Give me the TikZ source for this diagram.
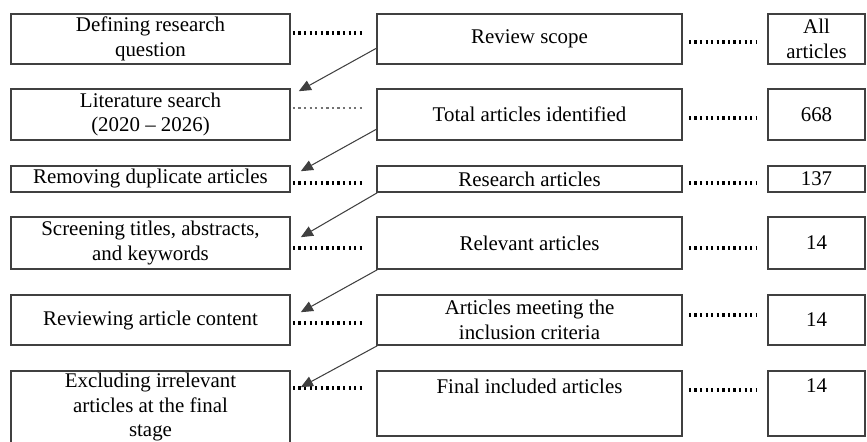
\documentclass[tikz,border=0pt]{standalone}
\usepackage{fontspec}
\setmainfont{Liberation Serif}
\usepackage{tikz}
\usetikzlibrary{calc}
\usetikzlibrary{arrows.meta}
\usetikzlibrary{positioning}
\newcommand{\pxu}{0.574pt}
\tikzset{>=latex}
\tikzstyle{colbox} = [rectangle, draw=black!75, line width=0.9pt, inner sep=0, align=center, font=\fontsize{12pt}{14pt}\selectfont]
\tikzstyle{stepbox} = [colbox, minimum width=279*\pxu]
\tikzstyle{outbox} = [colbox, minimum width=305*\pxu]
\tikzstyle{numbox} = [colbox, minimum width=97*\pxu]
\tikzstyle{lifted} = [text depth=20pt]
\tikzstyle{dots} = [line width=1.8pt, dash pattern=on 1.3pt off 1.9pt]
\tikzstyle{flow} = [-{Triangle[length=7pt, width=6pt]}, draw=black!75, line width=0.6pt]

\begin{document}
\begin{tikzpicture}[x=\pxu, y=-\pxu]
\useasboundingbox (0,0) rectangle (867,441);
% steps
\node [stepbox, minimum height=50*\pxu] (S1) at (150.5, 39) {Defining research\\question};
\node [stepbox, minimum height=51*\pxu] (S2) at (150.5, 114.5) {Literature search\\(2020 -- 2026)};
\node [stepbox, minimum height=26*\pxu] (S3) at (150.5, 179) {Removing duplicate articles};
\node [stepbox, minimum height=52*\pxu] (S4) at (150.5, 243) {Screening titles, abstracts,\\and keywords};
\node [stepbox, minimum height=50*\pxu] (S5) at (150.5, 320) {Reviewing article content};
\node [stepbox, minimum height=72*\pxu] (S6) at (150.5, 407) {Excluding irrelevant\\articles at the final\\stage};
% results
\node [outbox, minimum height=50*\pxu] (R1) at (529.5, 39) {Review scope};
\node [outbox, minimum height=51*\pxu] (R2) at (529.5, 114.5) {Total articles identified};
\node [outbox, minimum height=26*\pxu] (R3) at (529.5, 179) {Research articles};
\node [outbox, minimum height=52*\pxu] (R4) at (529.5, 243) {Relevant articles};
\node [outbox, minimum height=50*\pxu] (R5) at (529.5, 320) {Articles meeting the\\inclusion criteria};
\node [outbox, lifted, minimum height=65*\pxu] (R6) at (529.5, 403.5) {Final included articles};
% counts
\node [numbox, minimum height=50*\pxu] (N1) at (816.5, 39) {All\\articles};
\node [numbox, minimum height=51*\pxu] (N2) at (816.5, 114.5) {668};
\node [numbox, minimum height=26*\pxu] (N3) at (816.5, 179) {137};
\node [numbox, minimum height=52*\pxu] (N4) at (816.5, 243) {14};
\node [numbox, minimum height=50*\pxu] (N5) at (816.5, 320) {14};
\node [numbox, lifted, minimum height=65*\pxu] (N6) at (816.5, 403.5) {14};
% dotted leaders
\draw [dots] ([shift={(2,-6)}]S1.east) -- ([shift={(-13,-6)}]R1.west);
\draw [dots, line width=0.9pt, draw=black!55] ([shift={(2,-6.5)}]S2.east) -- ([shift={(-13,-6.5)}]R2.west);
\draw [dots] ([shift={(2,4)}]S3.east) -- ([shift={(-13,4)}]R3.west);
\draw [dots] ([shift={(2,5)}]S4.east) -- ([shift={(-13,5)}]R4.west);
\draw [dots] ([shift={(2,3)}]S5.east) -- ([shift={(-13,3)}]R5.west);
\draw [dots] ([shift={(2,-19)}]S6.east) -- ([shift={(-13,-15.5)}]R6.west);
\draw [dots] ([shift={(6,3)}]R1.east) -- ([shift={(-11,3)}]N1.west);
\draw [dots] ([shift={(6,3.5)}]R2.east) -- ([shift={(-11,3.5)}]N2.west);
\draw [dots] ([shift={(6,4)}]R3.east) -- ([shift={(-11,4)}]N3.west);
\draw [dots] ([shift={(6,5)}]R4.east) -- ([shift={(-11,5)}]N4.west);
\draw [dots] ([shift={(6,-5)}]R5.east) -- ([shift={(-11,-5)}]N5.west);
\draw [dots] ([shift={(6,-13.5)}]R6.east) -- ([shift={(-11,-13.5)}]N6.west);
% flow to next step
\draw [flow] ([shift={(1,-17)}]R1.south west) to ([shift={(8,3)}]S2.north east);
\draw [flow] ([shift={(1,-12)}]R2.south west) to ([shift={(10,6)}]S3.north east);
\draw [flow] ([shift={(1,0)}]R3.south west) to ([shift={(10,21)}]S4.north east);
\draw [flow] ([shift={(1,0)}]R4.south west) to ([shift={(10,18)}]S5.north east);
\draw [flow] ([shift={(1,0)}]R5.south west) to ([shift={(10,17)}]S6.north east);
\end{tikzpicture}
\end{document}
